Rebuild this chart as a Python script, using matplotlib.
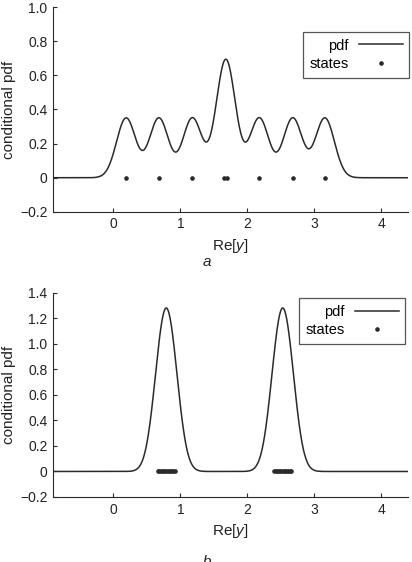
import numpy as np
import matplotlib
matplotlib.use('Agg')
import matplotlib.pyplot as plt
from matplotlib.ticker import FuncFormatter

plt.rcParams['font.family'] = ['Liberation Sans', 'DejaVu Sans']
plt.rcParams['mathtext.fontset'] = 'custom'
plt.rcParams['mathtext.rm'] = 'Liberation Sans'
plt.rcParams['mathtext.it'] = 'Liberation Sans:italic'

# states (positions on Re[y])
states_a = [0.19, 0.68, 1.18, 1.66, 1.70, 2.18, 2.68, 3.16]
states_b = [0.66, 0.684, 0.707, 0.731, 0.755, 0.778, 0.802, 0.825, 0.849, 0.873, 0.896, 0.92,
            2.40, 2.424, 2.447, 2.471, 2.495, 2.518, 2.542, 2.565, 2.589, 2.613, 2.636, 2.66]
# noise std of each Gaussian component
sigma_a = 0.1425
sigma_b = 0.1295

x_min, x_max = -0.9, 4.4
xticks = [0, 1, 2, 3, 4]
yticks_a = [-0.2, 0, 0.2, 0.4, 0.6, 0.8, 1.0]
yticks_b = [-0.2, 0, 0.2, 0.4, 0.6, 0.8, 1.0, 1.2, 1.4]
captions = ['a', 'b']

col = '#2a2a2a'
tcol = '#222222'


def mixture_pdf(x, states, sigma):
    s = np.asarray(states)[:, None]
    g = np.exp(-(x[None, :] - s) ** 2 / (2 * sigma ** 2)) / (sigma * np.sqrt(2 * np.pi))
    return g.mean(axis=0)


def fmt(v, pos):
    if abs(v) < 1e-9:
        return '0'
    return f'{v:.1f}'.replace('-', '\u2212')


fig = plt.figure(figsize=(4.12, 5.62), dpi=100)
ax_a = fig.add_axes([0.129, 0.623, 0.861, 0.3645])
ax_b = fig.add_axes([0.129, 0.1157, 0.861, 0.363])

xx = np.linspace(x_min, x_max, 2000)

panels = [(ax_a, states_a, sigma_a, yticks_a, (1.004, 0.878)),
          (ax_b, states_b, sigma_b, yticks_b, (0.993, 0.975))]

for ax, states, sigma, yt, anchor in panels:
    ax.plot(xx, mixture_pdf(xx, states, sigma), color=col, lw=1.1, label='pdf')
    ax.plot(states, np.zeros(len(states)), 'o', color=col, ms=2.3, mec=col, label='states')
    ax.set_xlim(x_min, x_max)
    ax.set_ylim(yt[0], yt[-1])
    ax.set_xticks(xticks)
    ax.set_yticks(yt)
    ax.yaxis.set_major_formatter(FuncFormatter(fmt))
    for side in ['top', 'right']:
        ax.spines[side].set_visible(False)
    for side in ['left', 'bottom']:
        ax.spines[side].set_color(col)
        ax.spines[side].set_linewidth(0.8)
    ax.tick_params(direction='in', length=3, width=0.8, color=col,
                   labelsize=10, labelcolor=tcol, pad=4)
    ax.set_xlabel('Re[$y$]', fontsize=11, color=tcol, labelpad=4)
    ax.set_ylabel('conditional pdf', fontsize=11, color=tcol, labelpad=3)
    leg = ax.legend(loc='upper right', bbox_to_anchor=anchor, markerfirst=False,
                    fancybox=False, frameon=True, fontsize=10.5, handlelength=3.0,
                    borderpad=0.45, labelspacing=0.3, handletextpad=0.7,
                    borderaxespad=0)
    leg.get_frame().set_edgecolor(col)
    leg.get_frame().set_linewidth(0.9)

fig.text(0.503, 0.534, captions[0], ha='center', va='center', style='italic',
         fontsize=11, color=tcol)
fig.text(0.503, 0.0125, captions[1], ha='center', va='top', style='italic',
         fontsize=11, color=tcol)

fig.savefig('out.png', dpi=100)
